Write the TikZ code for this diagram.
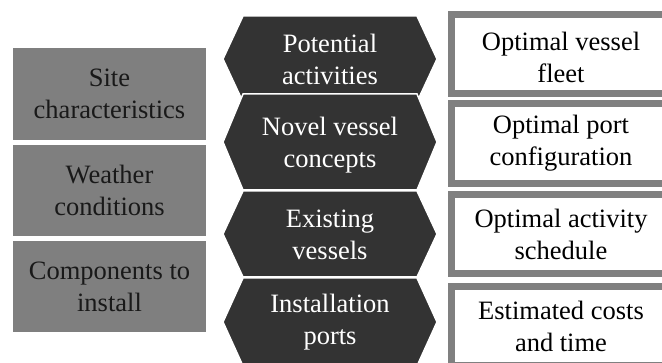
\documentclass[tikz,border=0pt]{standalone}
\usepackage{fontspec}
\setmainfont{Liberation Serif}
\newfontfamily\timesfont{Liberation Serif}
\definecolor{inputgray}{RGB}{127,127,127}
\definecolor{hexdark}{RGB}{51,51,51}
\definecolor{framegray}{RGB}{128,128,128}
\tikzset{
  lbl/.style={align=center, font=\timesfont\fontsize{26.5}{32}\selectfont},
  hexa/.style={fill=hexdark, draw=white, line width=1.5pt},
  outbox/.style={fill=white, draw=framegray, line width=7pt}
}

\begin{document}
\begin{tikzpicture}[x=1pt, y=-1pt]
  \useasboundingbox (0,0) rectangle (662,363);
  \clip (0,0) rectangle (662,363);

  % inputs
  \fill [inputgray] (13,48) rectangle (206,140);
  \fill [inputgray] (13,145) rectangle (206,236);
  \fill [inputgray] (13,241) rectangle (206,332);
  \node [lbl, text=black!90] (site) at (109.5,94) {Site\\characteristics};
  \node [lbl, text=black!90] (weather) at (109.5,190.5) {Weather\\conditions};
  \node [lbl, text=black!90] (comp) at (109.5,286.5) {Components to\\install};

  % models
  \draw [hexa] (223,59) -- ++(20,-43) -- ++(174,0) -- ++(20,43) -- ++(-20,43) -- ++(-174,0) -- cycle;
  \draw [hexa] (223,142) -- ++(20,-48) -- ++(174,0) -- ++(20,48) -- ++(-20,48) -- ++(-174,0) -- cycle;
  \draw [hexa] (223,234) -- ++(20,-43) -- ++(174,0) -- ++(20,43) -- ++(-20,43) -- ++(-174,0) -- cycle;
  \draw [hexa] (223,322) -- ++(20,-44) -- ++(174,0) -- ++(20,44) -- ++(-20,44) -- ++(-174,0) -- cycle;
  \node [lbl, text=white] (activ) at (330,59) {Potential\\activities};
  \node [lbl, text=white] (novel) at (330,145) {Novel vessel\\concepts};
  \node [lbl, text=white] (exist) at (330,235) {Existing\\vessels};
  \node [lbl, text=white] (ports) at (330,322) {Installation\\ports};

  % outputs
  \draw [outbox] (451.5,14.5) rectangle (671,93.5);
  \draw [outbox] (451.5,103.5) rectangle (671,183.5);
  \draw [outbox] (451.5,194.5) rectangle (671,273.5);
  \draw [outbox] (451.5,286.5) rectangle (671,366);
  \node [lbl] (fleet) at (561,57) {Optimal vessel\\fleet};
  \node [lbl] (config) at (561,143) {Optimal port\\configuration};
  \node [lbl] (sched) at (561,234) {Optimal activity\\schedule};
  \node [lbl] (cost) at (561,326) {Estimated costs\\and time};
\end{tikzpicture}
\end{document}
